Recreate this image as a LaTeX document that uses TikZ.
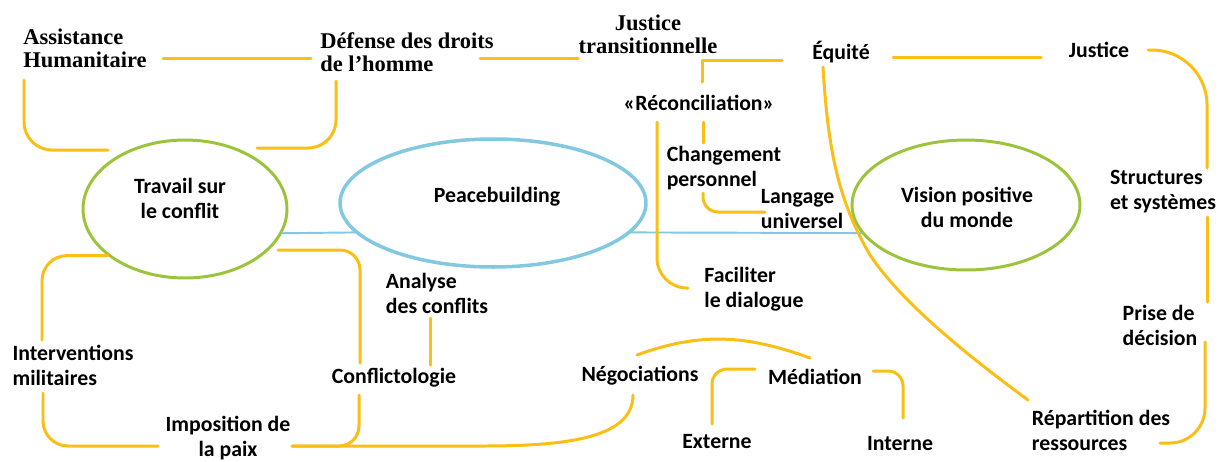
\documentclass[tikz,border=0pt]{standalone}
\usepackage{fontspec}
\setmainfont{Carlito}
\newfontfamily\serifbold{Liberation Serif}
\usetikzlibrary{shapes.geometric,calc}
\definecolor{gold}{RGB}{250,190,20}
\definecolor{leaf}{RGB}{155,196,60}
\definecolor{sky}{RGB}{130,200,225}

\begin{document}
\begin{tikzpicture}[line cap=round,line join=round,x=0.02cm,y=-0.02cm,
  lbl/.style={font=\bfseries\fontsize{12.4}{14.2}\selectfont,inner sep=0pt,align=left},
  tnr/.style={font=\serifbold\bfseries\fontsize{12.8}{13.2}\selectfont,inner sep=0pt,align=left},
  ring/.style={ellipse,draw=#1,line width=1.7pt,inner sep=0pt},
  link/.style={color=gold,line width=1.7pt},
  blink/.style={color=sky,line width=1.1pt}]
\useasboundingbox (0,0) rectangle (1222,461);

\node[ring=leaf,minimum width=4.08cm,minimum height=2.76cm] (travail) at (185,209) {};
\node[ring=sky,line width=2pt,minimum width=6.12cm,minimum height=2.56cm] (peace) at (493,203) {};
\node[ring=leaf,minimum width=4.56cm,minimum height=2.6cm] (vision) at (966,205) {};

\node[lbl,align=center] (travailT) at (180,198) {Travail sur\\le conflit};
\node[lbl] (peaceT) at (497,197) {Peacebuilding};
\node[lbl,align=center] (visionT) at (967,207) {Vision positive\\du monde};

\node[tnr] (assist) at (85,48) {Assistance\\Humanitaire};
\node[tnr] (defense) at (407,52) {Défense des droits\\de l’homme};
\node[tnr,align=center] (justtr) at (648,34) {Justice\\transitionnelle};
\node[lbl] (equite) at (841,52) {Équité};
\node[lbl] (justice) at (1099,50) {Justice};
\node[lbl] (recon) at (699,103) {«Réconciliation»};
\node[lbl] (changement) at (724,168) {Changement\\personnel};
\node[lbl] (langage) at (802,209) {Langage\\universel};
\node[lbl] (faciliter) at (754,289) {Faciliter\\le dialogue};
\node[lbl] (structures) at (1163,192) {Structures\\et systèmes};
\node[lbl] (prise) at (1160,325) {Prise de\\décision};
\node[lbl] (repart) at (1101,430) {Répartition des\\ressources};
\node[lbl] (interv) at (73,365) {Interventions\\militaires};
\node[lbl,align=center] (imposition) at (228,438) {Imposition de\\la paix};
\node[lbl] (conflicto) at (394,378) {Conflictologie};
\node[lbl] (analyse) at (437,293) {Analyse\\des conflits};
\node[lbl] (nego) at (640,376) {Négociations};
\node[lbl] (mediation) at (815,377) {Médiation};
\node[lbl] (externe) at (717,441) {Externe};
\node[lbl] (interne) at (900,443) {Interne};

\draw[blink] (travail.-14) -- (peace.192.5);
\draw[blink] (peace.-12.5) -- (vision.195);

\draw[link] ($(assist)+(78,10)$) -- ($(defense)+(-96,6)$);
\draw[link,rounded corners=0.56cm] ($(assist)+(-61,32)$) |- ($(travail)+(-77,-59)$);
\draw[link,rounded corners=0.56cm] ($(defense)+(-71,29)$) |- ($(travail)+(72,-61)$);
\draw[link] ($(defense)+(73,6)$) -- ($(justtr)+(-70,24)$);
\draw[link] ($(equite)+(-59,8)$) -| ($(recon)+(3,-21)$);
\draw[link] ($(recon)+(4,19)$) -- ($(changement)+(-21,-25)$);
\draw[link,rounded corners=0.6cm] ($(recon)+(-42,19)$) |- ($(faciliter)+(-66,-1)$);
\draw[link,rounded corners=0.3cm] ($(changement)+(-21,25)$) |- ($(langage)+(-37,3)$);
\draw[link] ($(equite)+(52,5)$) -- ($(justice)+(-58,7)$);
\draw[link,rounded corners=1.1cm] ($(justice)+(49,0)$) -| ($(structures)+(44,-24)$);
\draw[link] ($(structures)+(44,25)$) -- ($(prise)+(47,-23)$);
\draw[link,rounded corners=0.7cm] ($(prise)+(45,17)$) |- ($(repart)+(59,13)$);
\draw[link] ($(equite)+(-18,15)$) .. controls ($(equite)+(-13,98)$) and ($(equite)+(-3,148)$) .. ($(equite)+(29,203)$)
  .. controls ($(repart)+(-201,-130)$) and ($(repart)+(-141,-80)$) .. ($(repart)+(-73,-30)$);

\draw[link,rounded corners=0.5cm] (travail.211) -| ($(interv)+(-31,-25)$);
\draw[link,rounded corners=0.5cm] ($(interv)+(-30,28)$) |- ($(imposition)+(-70,8)$);
\draw[link,rounded corners=0.4cm] ($(travail)+(93,41)$) -| ($(conflicto)+(-34,-15)$);
\draw[link,rounded corners=0.4cm] ($(conflicto)+(-35,17)$) |- ($(imposition)+(64,8)$);
\draw[link] ($(imposition)+(64,8)$) -- ($(imposition)+(252,8)$)
  .. controls ($(nego)+(-80,70)$) and ($(nego)+(-7,64)$) .. ($(nego)+(-7,19)$);
\draw[link] ($(analyse)+(-7,25)$) -- ($(conflicto)+(36,-13)$);
\draw[link] ($(nego)+(-3,-21)$) to[out=20,in=160] ($(mediation)+(-5,-19)$);
\draw[link,rounded corners=0.3cm] ($(mediation)+(-60,-8)$) -| ($(externe)+(-5,-17)$);
\draw[link,rounded corners=0.3cm] ($(mediation)+(58,-6)$) -| ($(interne)+(3,-25)$);
\end{tikzpicture}
\end{document}
